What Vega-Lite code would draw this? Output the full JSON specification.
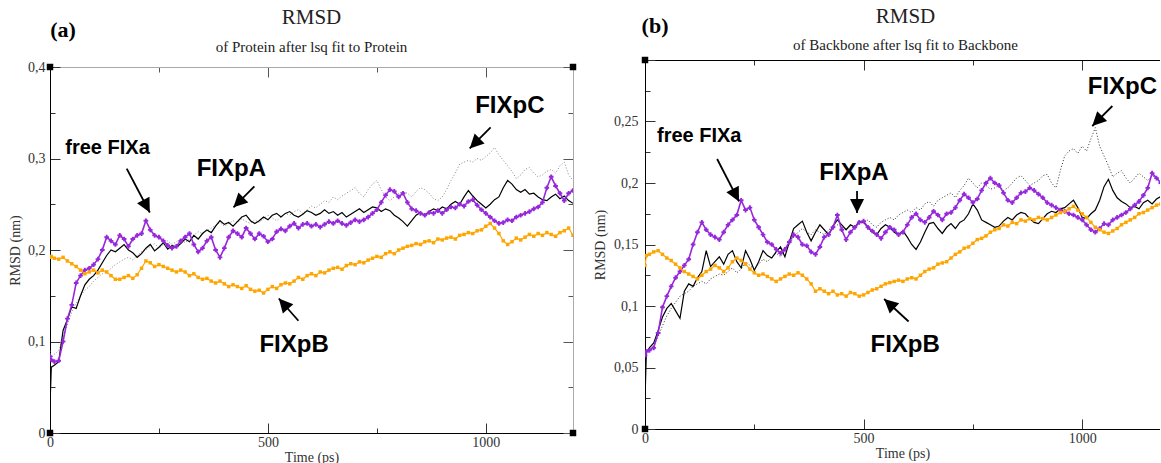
{
"$schema":"https://vega.github.io/schema/vega-lite/v6.json",
"padding":{"left":8,"top":6,"right":0,"bottom":0},
"spacing":16,
"config":{"view":{"stroke":null},"axis":{"grid":false,"labelFont":"Liberation Serif","labelFontSize":14,"labelColor":"#333","titleFont":"Liberation Serif","titleFontSize":14,"titleFontWeight":"normal","titleColor":"#333","domainColor":"#000","tickColor":"#333","domainWidth":1,"tickWidth":1,"labelFlush":false}},
"datasets":{
"L":[
{"t":0,"A":0.030,"B":0.192,"C":0.090,"F":0.084},
{"t":3,"A":0.072,"B":0.193,"C":0.082,"F":0.080},
{"t":10,"A":0.074,"B":0.191,"C":0.086,"F":0.078},
{"t":20,"A":0.078,"B":0.190,"C":0.090,"F":0.079},
{"t":30,"A":0.112,"B":0.192,"C":0.104,"F":0.100},
{"t":40,"A":0.124,"B":0.188,"C":0.118,"F":0.125},
{"t":50,"A":0.138,"B":0.185,"C":0.132,"F":0.140},
{"t":60,"A":0.136,"B":0.182,"C":0.142,"F":0.164},
{"t":70,"A":0.150,"B":0.178,"C":0.150,"F":0.172},
{"t":80,"A":0.162,"B":0.174,"C":0.156,"F":0.178},
{"t":90,"A":0.168,"B":0.176,"C":0.160,"F":0.180},
{"t":100,"A":0.172,"B":0.178,"C":0.166,"F":0.184},
{"t":110,"A":0.178,"B":0.175,"C":0.170,"F":0.190},
{"t":120,"A":0.186,"B":0.178,"C":0.174,"F":0.200},
{"t":130,"A":0.194,"B":0.176,"C":0.176,"F":0.214},
{"t":140,"A":0.200,"B":0.172,"C":0.180,"F":0.210},
{"t":150,"A":0.198,"B":0.168,"C":0.184,"F":0.206},
{"t":160,"A":0.202,"B":0.168,"C":0.187,"F":0.216},
{"t":170,"A":0.206,"B":0.170,"C":0.190,"F":0.212},
{"t":180,"A":0.200,"B":0.172,"C":0.192,"F":0.204},
{"t":190,"A":0.197,"B":0.169,"C":0.189,"F":0.212},
{"t":200,"A":0.192,"B":0.173,"C":0.194,"F":0.216},
{"t":210,"A":0.196,"B":0.180,"C":0.198,"F":0.218},
{"t":220,"A":0.202,"B":0.188,"C":0.200,"F":0.232},
{"t":230,"A":0.206,"B":0.186,"C":0.204,"F":0.222},
{"t":240,"A":0.199,"B":0.182,"C":0.207,"F":0.216},
{"t":250,"A":0.203,"B":0.184,"C":0.202,"F":0.214},
{"t":260,"A":0.208,"B":0.182,"C":0.206,"F":0.210},
{"t":270,"A":0.201,"B":0.180,"C":0.210,"F":0.205},
{"t":280,"A":0.205,"B":0.178,"C":0.206,"F":0.202},
{"t":290,"A":0.203,"B":0.176,"C":0.209,"F":0.204},
{"t":300,"A":0.207,"B":0.178,"C":0.212,"F":0.210},
{"t":310,"A":0.212,"B":0.176,"C":0.208,"F":0.214},
{"t":320,"A":0.209,"B":0.172,"C":0.212,"F":0.218},
{"t":330,"A":0.216,"B":0.174,"C":0.216,"F":0.206},
{"t":340,"A":0.212,"B":0.170,"C":0.220,"F":0.198},
{"t":350,"A":0.218,"B":0.168,"C":0.218,"F":0.202},
{"t":360,"A":0.222,"B":0.169,"C":0.221,"F":0.210},
{"t":370,"A":0.219,"B":0.166,"C":0.224,"F":0.214},
{"t":380,"A":0.226,"B":0.164,"C":0.227,"F":0.200},
{"t":390,"A":0.232,"B":0.166,"C":0.230,"F":0.192},
{"t":400,"A":0.228,"B":0.163,"C":0.226,"F":0.202},
{"t":410,"A":0.230,"B":0.160,"C":0.229,"F":0.214},
{"t":420,"A":0.226,"B":0.162,"C":0.232,"F":0.221},
{"t":430,"A":0.231,"B":0.160,"C":0.230,"F":0.218},
{"t":440,"A":0.236,"B":0.158,"C":0.234,"F":0.214},
{"t":450,"A":0.238,"B":0.161,"C":0.231,"F":0.224},
{"t":460,"A":0.232,"B":0.157,"C":0.229,"F":0.218},
{"t":470,"A":0.229,"B":0.155,"C":0.233,"F":0.212},
{"t":480,"A":0.232,"B":0.156,"C":0.230,"F":0.218},
{"t":490,"A":0.236,"B":0.153,"C":0.234,"F":0.215},
{"t":500,"A":0.233,"B":0.157,"C":0.238,"F":0.209},
{"t":510,"A":0.238,"B":0.160,"C":0.235,"F":0.212},
{"t":520,"A":0.240,"B":0.158,"C":0.232,"F":0.220},
{"t":530,"A":0.236,"B":0.162,"C":0.236,"F":0.223},
{"t":540,"A":0.240,"B":0.164,"C":0.240,"F":0.221},
{"t":550,"A":0.242,"B":0.163,"C":0.238,"F":0.226},
{"t":560,"A":0.238,"B":0.166,"C":0.242,"F":0.229},
{"t":570,"A":0.236,"B":0.170,"C":0.244,"F":0.224},
{"t":580,"A":0.239,"B":0.168,"C":0.240,"F":0.228},
{"t":590,"A":0.243,"B":0.172,"C":0.244,"F":0.229},
{"t":600,"A":0.241,"B":0.174,"C":0.248,"F":0.226},
{"t":610,"A":0.238,"B":0.172,"C":0.246,"F":0.228},
{"t":620,"A":0.240,"B":0.176,"C":0.250,"F":0.225},
{"t":630,"A":0.244,"B":0.175,"C":0.254,"F":0.228},
{"t":640,"A":0.240,"B":0.178,"C":0.252,"F":0.231},
{"t":650,"A":0.242,"B":0.180,"C":0.258,"F":0.229},
{"t":660,"A":0.238,"B":0.181,"C":0.255,"F":0.232},
{"t":670,"A":0.241,"B":0.179,"C":0.259,"F":0.229},
{"t":680,"A":0.236,"B":0.183,"C":0.262,"F":0.227},
{"t":690,"A":0.239,"B":0.185,"C":0.265,"F":0.230},
{"t":700,"A":0.242,"B":0.184,"C":0.268,"F":0.233},
{"t":710,"A":0.245,"B":0.187,"C":0.262,"F":0.231},
{"t":720,"A":0.241,"B":0.186,"C":0.258,"F":0.233},
{"t":730,"A":0.244,"B":0.189,"C":0.266,"F":0.236},
{"t":740,"A":0.247,"B":0.191,"C":0.272,"F":0.240},
{"t":750,"A":0.246,"B":0.193,"C":0.276,"F":0.244},
{"t":760,"A":0.242,"B":0.192,"C":0.266,"F":0.252},
{"t":770,"A":0.245,"B":0.196,"C":0.258,"F":0.260},
{"t":780,"A":0.243,"B":0.198,"C":0.254,"F":0.266},
{"t":790,"A":0.238,"B":0.196,"C":0.258,"F":0.264},
{"t":800,"A":0.235,"B":0.200,"C":0.262,"F":0.258},
{"t":810,"A":0.231,"B":0.202,"C":0.264,"F":0.262},
{"t":820,"A":0.226,"B":0.204,"C":0.262,"F":0.252},
{"t":830,"A":0.232,"B":0.205,"C":0.258,"F":0.245},
{"t":840,"A":0.238,"B":0.207,"C":0.264,"F":0.243},
{"t":850,"A":0.241,"B":0.206,"C":0.268,"F":0.240},
{"t":860,"A":0.238,"B":0.209,"C":0.266,"F":0.238},
{"t":870,"A":0.242,"B":0.210,"C":0.262,"F":0.241},
{"t":880,"A":0.245,"B":0.208,"C":0.256,"F":0.240},
{"t":890,"A":0.243,"B":0.212,"C":0.254,"F":0.243},
{"t":900,"A":0.247,"B":0.211,"C":0.258,"F":0.240},
{"t":910,"A":0.245,"B":0.213,"C":0.266,"F":0.244},
{"t":920,"A":0.250,"B":0.214,"C":0.276,"F":0.247},
{"t":930,"A":0.253,"B":0.212,"C":0.284,"F":0.246},
{"t":940,"A":0.250,"B":0.216,"C":0.294,"F":0.250},
{"t":950,"A":0.258,"B":0.217,"C":0.296,"F":0.248},
{"t":960,"A":0.265,"B":0.219,"C":0.298,"F":0.253},
{"t":970,"A":0.259,"B":0.218,"C":0.296,"F":0.255},
{"t":980,"A":0.254,"B":0.221,"C":0.300,"F":0.249},
{"t":990,"A":0.250,"B":0.222,"C":0.298,"F":0.244},
{"t":1000,"A":0.246,"B":0.226,"C":0.302,"F":0.240},
{"t":1010,"A":0.250,"B":0.229,"C":0.306,"F":0.236},
{"t":1020,"A":0.255,"B":0.224,"C":0.312,"F":0.232},
{"t":1030,"A":0.258,"B":0.218,"C":0.304,"F":0.229},
{"t":1040,"A":0.268,"B":0.210,"C":0.298,"F":0.230},
{"t":1050,"A":0.276,"B":0.206,"C":0.292,"F":0.233},
{"t":1060,"A":0.272,"B":0.209,"C":0.286,"F":0.232},
{"t":1070,"A":0.266,"B":0.213,"C":0.278,"F":0.236},
{"t":1080,"A":0.263,"B":0.211,"C":0.282,"F":0.238},
{"t":1090,"A":0.266,"B":0.214,"C":0.288,"F":0.240},
{"t":1100,"A":0.261,"B":0.217,"C":0.290,"F":0.242},
{"t":1110,"A":0.262,"B":0.215,"C":0.284,"F":0.245},
{"t":1120,"A":0.258,"B":0.218,"C":0.280,"F":0.247},
{"t":1130,"A":0.255,"B":0.216,"C":0.282,"F":0.252},
{"t":1140,"A":0.254,"B":0.219,"C":0.286,"F":0.268},
{"t":1150,"A":0.258,"B":0.217,"C":0.288,"F":0.280},
{"t":1160,"A":0.261,"B":0.215,"C":0.284,"F":0.270},
{"t":1170,"A":0.256,"B":0.219,"C":0.292,"F":0.262},
{"t":1180,"A":0.259,"B":0.221,"C":0.296,"F":0.254},
{"t":1190,"A":0.254,"B":0.224,"C":0.282,"F":0.262},
{"t":1200,"A":0.251,"B":0.216,"C":0.276,"F":0.265}
],
"R":[
{"t":0,"A":0.023,"B":0.133,"C":0.040,"F":0.060},
{"t":3,"A":0.062,"B":0.141,"C":0.062,"F":0.063},
{"t":10,"A":0.066,"B":0.142,"C":0.064,"F":0.064},
{"t":20,"A":0.070,"B":0.144,"C":0.068,"F":0.066},
{"t":30,"A":0.080,"B":0.145,"C":0.075,"F":0.078},
{"t":40,"A":0.091,"B":0.142,"C":0.084,"F":0.099},
{"t":50,"A":0.098,"B":0.139,"C":0.092,"F":0.108},
{"t":60,"A":0.102,"B":0.137,"C":0.098,"F":0.116},
{"t":70,"A":0.096,"B":0.134,"C":0.103,"F":0.123},
{"t":80,"A":0.090,"B":0.131,"C":0.108,"F":0.128},
{"t":90,"A":0.112,"B":0.128,"C":0.110,"F":0.133},
{"t":100,"A":0.118,"B":0.126,"C":0.112,"F":0.138},
{"t":110,"A":0.116,"B":0.124,"C":0.116,"F":0.150},
{"t":120,"A":0.123,"B":0.122,"C":0.118,"F":0.160},
{"t":130,"A":0.128,"B":0.125,"C":0.120,"F":0.168},
{"t":140,"A":0.145,"B":0.128,"C":0.118,"F":0.162},
{"t":150,"A":0.132,"B":0.130,"C":0.122,"F":0.158},
{"t":160,"A":0.136,"B":0.133,"C":0.124,"F":0.156},
{"t":170,"A":0.140,"B":0.131,"C":0.126,"F":0.154},
{"t":180,"A":0.134,"B":0.128,"C":0.125,"F":0.160},
{"t":190,"A":0.142,"B":0.131,"C":0.128,"F":0.166},
{"t":200,"A":0.145,"B":0.136,"C":0.131,"F":0.170},
{"t":210,"A":0.136,"B":0.139,"C":0.127,"F":0.174},
{"t":220,"A":0.131,"B":0.137,"C":0.130,"F":0.186},
{"t":230,"A":0.145,"B":0.134,"C":0.136,"F":0.178},
{"t":240,"A":0.138,"B":0.130,"C":0.133,"F":0.180},
{"t":250,"A":0.129,"B":0.127,"C":0.130,"F":0.170},
{"t":260,"A":0.136,"B":0.125,"C":0.134,"F":0.164},
{"t":270,"A":0.145,"B":0.126,"C":0.138,"F":0.158},
{"t":280,"A":0.141,"B":0.124,"C":0.136,"F":0.152},
{"t":290,"A":0.139,"B":0.122,"C":0.140,"F":0.150},
{"t":300,"A":0.144,"B":0.120,"C":0.143,"F":0.146},
{"t":310,"A":0.148,"B":0.122,"C":0.140,"F":0.143},
{"t":320,"A":0.140,"B":0.124,"C":0.146,"F":0.146},
{"t":330,"A":0.152,"B":0.126,"C":0.150,"F":0.152},
{"t":340,"A":0.163,"B":0.125,"C":0.156,"F":0.158},
{"t":350,"A":0.166,"B":0.127,"C":0.160,"F":0.156},
{"t":360,"A":0.169,"B":0.125,"C":0.163,"F":0.150},
{"t":370,"A":0.160,"B":0.122,"C":0.160,"F":0.149},
{"t":380,"A":0.153,"B":0.118,"C":0.158,"F":0.144},
{"t":390,"A":0.160,"B":0.112,"C":0.162,"F":0.142},
{"t":400,"A":0.166,"B":0.114,"C":0.160,"F":0.148},
{"t":410,"A":0.162,"B":0.112,"C":0.158,"F":0.156},
{"t":420,"A":0.158,"B":0.110,"C":0.162,"F":0.158},
{"t":430,"A":0.165,"B":0.112,"C":0.164,"F":0.164},
{"t":440,"A":0.170,"B":0.109,"C":0.166,"F":0.174},
{"t":450,"A":0.166,"B":0.110,"C":0.164,"F":0.162},
{"t":460,"A":0.162,"B":0.108,"C":0.162,"F":0.154},
{"t":470,"A":0.166,"B":0.111,"C":0.165,"F":0.160},
{"t":480,"A":0.164,"B":0.110,"C":0.163,"F":0.164},
{"t":490,"A":0.169,"B":0.108,"C":0.167,"F":0.168},
{"t":500,"A":0.168,"B":0.109,"C":0.168,"F":0.169},
{"t":510,"A":0.164,"B":0.111,"C":0.170,"F":0.164},
{"t":520,"A":0.160,"B":0.113,"C":0.166,"F":0.161},
{"t":530,"A":0.158,"B":0.114,"C":0.164,"F":0.158},
{"t":540,"A":0.163,"B":0.116,"C":0.168,"F":0.155},
{"t":550,"A":0.166,"B":0.118,"C":0.170,"F":0.160},
{"t":560,"A":0.164,"B":0.119,"C":0.172,"F":0.164},
{"t":570,"A":0.160,"B":0.120,"C":0.170,"F":0.162},
{"t":580,"A":0.158,"B":0.121,"C":0.174,"F":0.158},
{"t":590,"A":0.161,"B":0.120,"C":0.176,"F":0.160},
{"t":600,"A":0.156,"B":0.122,"C":0.178,"F":0.166},
{"t":610,"A":0.150,"B":0.123,"C":0.176,"F":0.172},
{"t":620,"A":0.146,"B":0.122,"C":0.180,"F":0.175},
{"t":630,"A":0.152,"B":0.125,"C":0.178,"F":0.170},
{"t":640,"A":0.160,"B":0.128,"C":0.183,"F":0.168},
{"t":650,"A":0.167,"B":0.130,"C":0.185,"F":0.172},
{"t":660,"A":0.168,"B":0.131,"C":0.181,"F":0.177},
{"t":670,"A":0.163,"B":0.134,"C":0.186,"F":0.174},
{"t":680,"A":0.159,"B":0.135,"C":0.188,"F":0.170},
{"t":690,"A":0.164,"B":0.136,"C":0.190,"F":0.175},
{"t":700,"A":0.167,"B":0.139,"C":0.192,"F":0.176},
{"t":710,"A":0.163,"B":0.142,"C":0.188,"F":0.180},
{"t":720,"A":0.168,"B":0.144,"C":0.194,"F":0.186},
{"t":730,"A":0.170,"B":0.147,"C":0.198,"F":0.191},
{"t":740,"A":0.175,"B":0.148,"C":0.204,"F":0.188},
{"t":750,"A":0.183,"B":0.151,"C":0.200,"F":0.184},
{"t":760,"A":0.178,"B":0.154,"C":0.196,"F":0.187},
{"t":770,"A":0.170,"B":0.155,"C":0.200,"F":0.194},
{"t":780,"A":0.168,"B":0.157,"C":0.198,"F":0.200},
{"t":790,"A":0.166,"B":0.160,"C":0.195,"F":0.204},
{"t":800,"A":0.164,"B":0.162,"C":0.196,"F":0.200},
{"t":810,"A":0.165,"B":0.163,"C":0.198,"F":0.198},
{"t":820,"A":0.169,"B":0.166,"C":0.194,"F":0.192},
{"t":830,"A":0.172,"B":0.165,"C":0.196,"F":0.186},
{"t":840,"A":0.170,"B":0.168,"C":0.200,"F":0.184},
{"t":850,"A":0.174,"B":0.167,"C":0.204,"F":0.188},
{"t":860,"A":0.176,"B":0.170,"C":0.206,"F":0.192},
{"t":870,"A":0.175,"B":0.169,"C":0.202,"F":0.193},
{"t":880,"A":0.171,"B":0.171,"C":0.198,"F":0.196},
{"t":890,"A":0.168,"B":0.170,"C":0.200,"F":0.194},
{"t":900,"A":0.167,"B":0.172,"C":0.202,"F":0.191},
{"t":910,"A":0.171,"B":0.171,"C":0.206,"F":0.188},
{"t":920,"A":0.175,"B":0.170,"C":0.207,"F":0.184},
{"t":930,"A":0.177,"B":0.172,"C":0.200,"F":0.182},
{"t":940,"A":0.176,"B":0.174,"C":0.196,"F":0.180},
{"t":950,"A":0.179,"B":0.176,"C":0.210,"F":0.178},
{"t":960,"A":0.180,"B":0.177,"C":0.222,"F":0.177},
{"t":970,"A":0.183,"B":0.179,"C":0.226,"F":0.175},
{"t":980,"A":0.186,"B":0.181,"C":0.228,"F":0.174},
{"t":990,"A":0.180,"B":0.178,"C":0.224,"F":0.172},
{"t":1000,"A":0.172,"B":0.175,"C":0.230,"F":0.170},
{"t":1010,"A":0.171,"B":0.172,"C":0.226,"F":0.166},
{"t":1020,"A":0.175,"B":0.168,"C":0.236,"F":0.162},
{"t":1030,"A":0.178,"B":0.164,"C":0.245,"F":0.160},
{"t":1040,"A":0.186,"B":0.162,"C":0.230,"F":0.163},
{"t":1050,"A":0.197,"B":0.160,"C":0.222,"F":0.167},
{"t":1060,"A":0.203,"B":0.159,"C":0.214,"F":0.166},
{"t":1070,"A":0.194,"B":0.161,"C":0.205,"F":0.170},
{"t":1080,"A":0.188,"B":0.163,"C":0.208,"F":0.172},
{"t":1090,"A":0.185,"B":0.166,"C":0.210,"F":0.174},
{"t":1100,"A":0.183,"B":0.168,"C":0.204,"F":0.176},
{"t":1110,"A":0.180,"B":0.170,"C":0.200,"F":0.179},
{"t":1120,"A":0.181,"B":0.172,"C":0.204,"F":0.182},
{"t":1130,"A":0.179,"B":0.175,"C":0.208,"F":0.185},
{"t":1140,"A":0.184,"B":0.176,"C":0.205,"F":0.190},
{"t":1150,"A":0.186,"B":0.178,"C":0.202,"F":0.196},
{"t":1160,"A":0.183,"B":0.180,"C":0.206,"F":0.208},
{"t":1170,"A":0.187,"B":0.182,"C":0.204,"F":0.204},
{"t":1180,"A":0.189,"B":0.183,"C":0.202,"F":0.200},
{"t":1190,"A":0.185,"B":0.180,"C":0.206,"F":0.212},
{"t":1200,"A":0.184,"B":0.178,"C":0.204,"F":0.205}
],
"TL":[{"t":132,"v":0.312,"label":"free FIXa"},{"t":416,"v":0.289,"label":"FIXpA"},{"t":1055,"v":0.357,"label":"FIXpC"},{"t":560,"v":0.096,"label":"FIXpB"}],
"AL":[{"t":176,"v":0.289,"t2":229,"v2":0.241},{"t":469,"v":0.2696,"t2":421,"v2":0.2466},{"t":1011,"v":0.334,"t2":963,"v2":0.311},{"t":570,"v":0.1227,"t2":525,"v2":0.147}],
"TR":[{"t":124,"v":0.238,"label":"free FIXa"},{"t":478,"v":0.208,"label":"FIXpA"},{"t":1092,"v":0.278,"label":"FIXpC"},{"t":595,"v":0.068,"label":"FIXpB"}],
"AR":[{"t":165,"v":0.2195,"t2":215,"v2":0.185},{"t":485,"v":0.1935,"t2":485,"v2":0.1756},{"t":1069,"v":0.2626,"t2":1023,"v2":0.2463},{"t":603,"v":0.0874,"t2":547,"v2":0.1057}]
},
"hconcat":[
{
"width":523,"height":373,
"title":{"text":"RMSD","subtitle":"of Protein after lsq fit to Protein","font":"Liberation Serif","fontSize":21,"fontWeight":"normal","color":"#222","subtitleFont":"Liberation Serif","subtitleFontSize":15,"subtitleColor":"#222","subtitlePadding":12,"offset":-36,"anchor":"middle","frame":"group"},
"data":{"name":"L"},
"resolve":{"axis":{"x":"independent","y":"independent"}},
"encoding":{
"x":{"field":"t","type":"quantitative","scale":{"domain":[0,1200],"nice":false,"zero":false},"axis":null},
"y":{"field":"v","type":"quantitative","scale":{"domain":[0,0.4],"range":[373,7],"nice":false,"zero":false},"axis":null}
},
"layer":[
{"transform":[{"fold":["C"],"as":["s","v"]}],
"mark":{"type":"line","color":"#888","strokeWidth":1,"strokeDash":[1,2],"clip":true},
"encoding":{
"x":{"field":"t","type":"quantitative","scale":{"domain":[0,1200],"nice":false,"zero":false},
"axis":{"orient":"bottom","values":[0,250,500,750,1000],"title":"Time (ps)","titlePadding":1,"labelPadding":12,"labelExpr":"datum.value % 500 === 0 ? format(datum.value,'d') : ''","tickSize":{"condition":{"test":"datum.value % 500 === 0","value":-10},"value":-5}}},
"y":{"field":"v","type":"quantitative","scale":{"domain":[0,0.4],"range":[373,7],"nice":false,"zero":false},
"axis":{"orient":"left","values":[0,0.05,0.1,0.15,0.2,0.25,0.3,0.35,0.4],"title":"RMSD (nm)","titlePadding":5,"labelPadding":15,"labelExpr":"round(datum.value*100) % 10 === 0 ? replace(format(datum.value,'~g'),'.',',') : ''","tickSize":{"condition":{"test":"round(datum.value*100) % 10 === 0","value":-10},"value":-5}}}
}},
{"transform":[{"fold":["A"],"as":["s","v"]}],
"mark":{"type":"line","color":"#000","strokeWidth":1.2,"clip":true},
"encoding":{
"x":{"field":"t","type":"quantitative","scale":{"domain":[0,1200],"nice":false,"zero":false},
"axis":{"orient":"top","offset":-7,"values":[0,250,500,750,1000],"title":null,"labels":false,"domainColor":"#aaa","tickColor":"#555","tickSize":{"condition":{"test":"datum.value % 500 === 0","value":-10},"value":-5}}},
"y":{"field":"v","type":"quantitative","scale":{"domain":[0,0.4],"range":[373,7],"nice":false,"zero":false},
"axis":{"orient":"right","values":[0,0.05,0.1,0.15,0.2,0.25,0.3,0.35,0.4],"title":null,"labels":false,"domainColor":"#aaa","tickColor":"#555","tickSize":{"condition":{"test":"round(datum.value*100) % 10 === 0","value":-10},"value":-5}}}
}},
{"transform":[{"fold":["F"],"as":["s","v"]}],"mark":{"type":"line","color":"#9628DC","strokeWidth":1.6,"clip":true}},
{"transform":[{"fold":["F"],"as":["s","v"]}],"mark":{"type":"point","shape":"cross","filled":true,"size":22,"color":"#9628DC","opacity":1,"clip":true}},
{"transform":[{"fold":["B"],"as":["s","v"]}],"mark":{"type":"line","color":"#FFA500","strokeWidth":1.2,"clip":true}},
{"transform":[{"fold":["B"],"as":["s","v"]}],"mark":{"type":"point","shape":"square","filled":true,"size":12,"color":"#FFA500","opacity":1,"clip":true}},
{"data":{"values":[{"t":0,"v":0},{"t":0,"v":0.4},{"t":1200,"v":0},{"t":1200,"v":0.4}]},"mark":{"type":"point","shape":"square","filled":true,"size":42,"color":"#000","opacity":1}},
{"data":{"name":"TL"},"transform":[{"filter":"datum.label === 'free FIXa'"}],"mark":{"type":"text","font":"Liberation Sans","fontWeight":"bold","fontSize":20,"color":"#000","align":"center","baseline":"middle"},"encoding":{"text":{"field":"label"}}},
{"data":{"name":"TL"},"transform":[{"filter":"datum.label !== 'free FIXa'"}],"mark":{"type":"text","font":"Liberation Sans","fontWeight":"bold","fontSize":24,"color":"#000","align":"center","baseline":"middle"},"encoding":{"text":{"field":"label"}}},
{"data":{"values":[{"t":30,"v":0.4405,"label":"(a)"}]},"mark":{"type":"text","font":"Liberation Serif","fontWeight":"bold","fontSize":22,"color":"#000","align":"center","baseline":"middle"},"encoding":{"text":{"field":"label"}}},
{"data":{"name":"AL"},"mark":{"type":"rule","color":"#000","strokeWidth":1.8},"encoding":{"x2":{"field":"t2"},"y2":{"field":"v2"}}},
{"data":{"name":"AL"},"transform":[{"calculate":"atan2((datum.t2-datum.t)*0.437,(datum.v2-datum.v)*915)*180/PI","as":"ang"}],
"mark":{"type":"point","shape":"M0,0L-1,2L1,2Z","filled":true,"size":196,"color":"#000","opacity":1},
"encoding":{"x":{"field":"t2","type":"quantitative"},"y":{"field":"v2","type":"quantitative"},"angle":{"field":"ang","type":"quantitative","scale":null}}}
]
},
{
"width":515,"height":369,
"title":{"text":"RMSD","subtitle":"of Backbone after lsq fit to Backbone","font":"Liberation Serif","fontSize":21,"fontWeight":"normal","color":"#222","subtitleFont":"Liberation Serif","subtitleFontSize":15,"subtitleColor":"#222","subtitlePadding":11,"offset":-38,"anchor":"middle","frame":"group","dx":3},
"data":{"name":"R"},
"resolve":{"axis":{"x":"independent","y":"independent"}},
"encoding":{
"x":{"field":"t","type":"quantitative","scale":{"domain":[0,1178],"nice":false,"zero":false},"axis":null},
"y":{"field":"v","type":"quantitative","scale":{"domain":[0,0.3],"nice":false,"zero":false},"axis":null}
},
"layer":[
{"transform":[{"fold":["C"],"as":["s","v"]}],
"mark":{"type":"line","color":"#333","strokeWidth":1,"strokeDash":[1,2],"clip":true},
"encoding":{
"x":{"field":"t","type":"quantitative","scale":{"domain":[0,1178],"nice":false,"zero":false},
"axis":{"orient":"bottom","values":[0,250,500,750,1000],"title":"Time (ps)","titlePadding":1,"labelPadding":12,"labelExpr":"datum.value % 500 === 0 ? format(datum.value,'d') : ''","tickSize":{"condition":{"test":"datum.value % 500 === 0","value":-10},"value":-5}}},
"y":{"field":"v","type":"quantitative","scale":{"domain":[0,0.3],"nice":false,"zero":false},
"axis":{"orient":"left","values":[0,0.025,0.05,0.075,0.1,0.125,0.15,0.175,0.2,0.225,0.25,0.275,0.3],"title":"RMSD (nm)","titlePadding":6,"labelPadding":17,"labelExpr":"(round(datum.value*1000) % 50 === 0 && datum.value < 0.29) ? replace(format(datum.value,'~g'),'.',',') : ''","tickSize":{"condition":{"test":"round(datum.value*1000) % 50 === 0","value":-10},"value":-5}}}
}},
{"transform":[{"fold":["A"],"as":["s","v"]}],
"mark":{"type":"line","color":"#000","strokeWidth":1.2,"clip":true},
"encoding":{
"x":{"field":"t","type":"quantitative","scale":{"domain":[0,1178],"nice":false,"zero":false},
"axis":{"orient":"top","values":[0,250,500,750,1000],"title":null,"labels":false,"domainColor":"#000","tickColor":"#333","tickSize":{"condition":{"test":"datum.value % 500 === 0","value":-10},"value":-5}}}
}},
{"transform":[{"fold":["F"],"as":["s","v"]}],"mark":{"type":"line","color":"#9628DC","strokeWidth":1.6,"clip":true}},
{"transform":[{"fold":["F"],"as":["s","v"]}],"mark":{"type":"point","shape":"cross","filled":true,"size":22,"color":"#9628DC","opacity":1,"clip":true}},
{"transform":[{"fold":["B"],"as":["s","v"]}],"mark":{"type":"line","color":"#FFA500","strokeWidth":1.2,"clip":true}},
{"transform":[{"fold":["B"],"as":["s","v"]}],"mark":{"type":"point","shape":"square","filled":true,"size":12,"color":"#FFA500","opacity":1,"clip":true}},
{"data":{"values":[{"t":0,"v":0},{"t":0,"v":0.3}]},"mark":{"type":"point","shape":"square","filled":true,"size":42,"color":"#000","opacity":1}},
{"data":{"name":"TR"},"transform":[{"filter":"datum.label === 'free FIXa'"}],"mark":{"type":"text","font":"Liberation Sans","fontWeight":"bold","fontSize":20,"color":"#000","align":"center","baseline":"middle"},"encoding":{"text":{"field":"label"}}},
{"data":{"name":"TR"},"transform":[{"filter":"datum.label !== 'free FIXa'"}],"mark":{"type":"text","font":"Liberation Sans","fontWeight":"bold","fontSize":24,"color":"#000","align":"center","baseline":"middle"},"encoding":{"text":{"field":"label"}}},
{"data":{"values":[{"t":23,"v":0.3276,"label":"(b)"}]},"mark":{"type":"text","font":"Liberation Serif","fontWeight":"bold","fontSize":22,"color":"#000","align":"center","baseline":"middle"},"encoding":{"text":{"field":"label"}}},
{"data":{"name":"AR"},"mark":{"type":"rule","color":"#000","strokeWidth":1.8},"encoding":{"x2":{"field":"t2"},"y2":{"field":"v2"}}},
{"data":{"name":"AR"},"transform":[{"calculate":"atan2((datum.t2-datum.t)*0.437,(datum.v2-datum.v)*1230)*180/PI","as":"ang"}],
"mark":{"type":"point","shape":"M0,0L-1,2L1,2Z","filled":true,"size":196,"color":"#000","opacity":1},
"encoding":{"x":{"field":"t2","type":"quantitative"},"y":{"field":"v2","type":"quantitative"},"angle":{"field":"ang","type":"quantitative","scale":null}}}
]
}
]
}
